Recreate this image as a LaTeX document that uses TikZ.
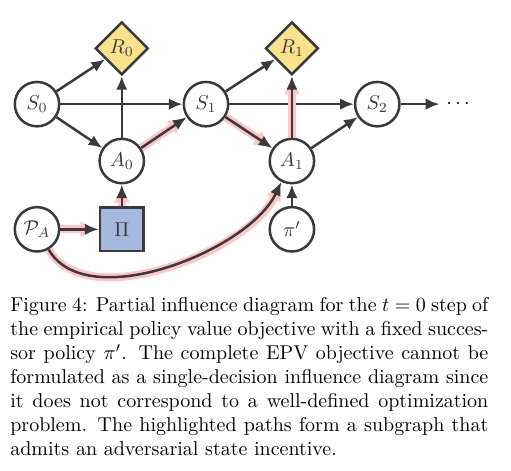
\documentclass[tikz,border=0pt]{standalone}
\usepackage{amsmath,amssymb}
\usepackage{xcolor}
\usepackage{tikz}
\usetikzlibrary{shapes.geometric, arrows.meta, positioning, calc}
\definecolor{idline}{RGB}{58,58,62}
\definecolor{idyellow}{RGB}{250,225,140}
\definecolor{idblue}{RGB}{164,184,224}
\definecolor{idpink}{RGB}{255,196,196}

\begin{document}
\begin{tikzpicture}[
    chance/.style={circle, draw=idline, line width=1.25pt, fill=white, minimum size=0.78cm, inner sep=0pt, text=idline},
    utility/.style={diamond, draw=idline, line width=1.25pt, fill=idyellow, minimum size=0.93cm, inner sep=0pt, text=idline},
    decision/.style={rectangle, draw=idline, line width=1.25pt, fill=idblue, minimum size=0.77cm, inner sep=0pt, text=idline},
    arrow/.style={-{Latex[length=2.4mm, width=2mm]}, line width=1.25pt, idline},
    hl/.style={preaction={draw, idpink, line width=4pt, -{Latex[length=3.2mm, width=2.9mm]}}}
]
\useasboundingbox (-0.65, 1.83) rectangle (8.33, -6.43);

% Time step 0
\node[chance] (s0) at (0, 0) {$S_0$};
\node[utility] (r0) at (1.49, 0.98) {$R_0$};
\node[chance] (a0) at (1.49, -1) {$A_0$};
\node[chance] (pa) at (0, -2.2) {$\mathcal{P}_A$};
\node[decision] (pi) at (1.49, -2.2) {$\Pi$};

% Time step 1
\node[chance] (s1) at (2.97, 0) {$S_1$};
\node[utility] (r1) at (4.48, 0.98) {$R_1$};
\node[chance] (a1) at (4.48, -1) {$A_1$};
\node[chance] (pip) at (4.48, -2.2) {$\pi'$};

% Next state
\node[chance] (s2) at (5.98, 0) {$S_2$};
\node (dots) at (7.43, 0) {$\cdots$};

% Plain edges
\draw[arrow] (s0) -- (r0);
\draw[arrow] (s0) -- (s1);
\draw[arrow] (s0) -- (a0);
\draw[arrow] (a0) -- (r0);
\draw[arrow] (s1) -- (r1);
\draw[arrow] (s1) -- (s2);
\draw[arrow] (a1) -- (s2);
\draw[arrow] (s2) -- (dots);
\draw[arrow] (pip) -- (a1);

% Highlighted paths
\draw[arrow, hl] (a0) -- (s1);
\draw[arrow, hl] (s1) -- (a1);
\draw[arrow, hl] (a1) -- (r1);
\draw[arrow, hl] (pi) -- (a0);
\draw[arrow, hl] (pa) -- (pi);
\draw[arrow, hl] (pa.-60) to[out=-60, in=-115, looseness=0.8] (a1.-117);

% Caption
\node[anchor=north west, inner sep=0pt, text width=8.40cm, align=justify] (caption) at (-0.475, -3.39) {Figure 4: Partial influence diagram for the $t=0$ step of the empirical policy value objective with a fixed successor policy $\pi'$. The complete EPV objective cannot be formulated as a single-decision influence diagram since it does not correspond to a well-defined optimization problem. The highlighted paths form a subgraph that admits an adversarial state incentive.};

\end{tikzpicture}
\end{document}
